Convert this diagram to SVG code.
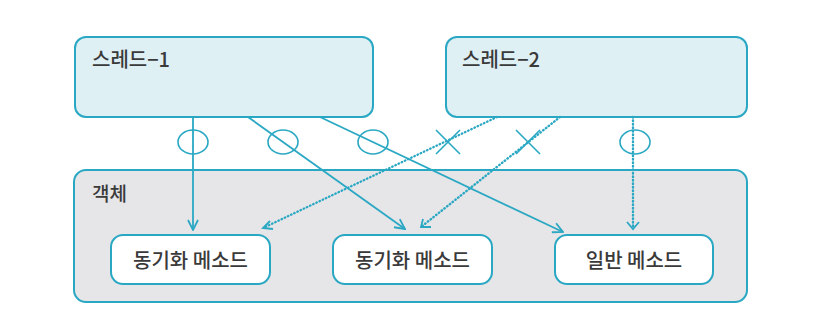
<svg xmlns="http://www.w3.org/2000/svg" width="838" height="333" viewBox="0 0 838 333">
<defs>
<style>
.t{font-family:"Noto Sans CJK KR","Noto Sans",sans-serif;font-size:20px;font-weight:500;fill:#3a3a3a}
.thr{fill:#dff0f5;stroke:#2aa8c3;stroke-width:2}
.obj{fill:#e6e5e8;stroke:#2aa8c3;stroke-width:2}
.m{fill:#ffffff;stroke:#2aa8c3;stroke-width:2}
.ln{fill:none;stroke:#2aa8c3;stroke-width:1.8}
.dt{fill:none;stroke:#2aa8c3;stroke-width:2.4;stroke-dasharray:0.5 3;stroke-linecap:round}
.mk{fill:none;stroke:#2aa8c3;stroke-width:1.6}
</style>
<marker id="a" viewBox="0 0 12 12" refX="11" refY="6" markerWidth="12" markerHeight="12" markerUnits="userSpaceOnUse" orient="auto">
<path d="M1,1 L11,6 L1,11" fill="none" stroke="#2aa8c3" stroke-width="1.8"/>
</marker>
</defs>
<rect width="838" height="333" fill="#ffffff"/>
<g id="object">
<rect class="obj" x="74" y="170" width="673" height="132" rx="12"/>
<text class="t" x="92" y="201" style="font-size:19px">객체</text>
</g>
<g id="thread1">
<rect class="thr" x="75" y="37" width="298" height="80" rx="11"/>
<text class="t" x="92" y="67">스레드−1</text>
</g>
<g id="thread2">
<rect class="thr" x="446" y="37" width="301" height="80" rx="11"/>
<text class="t" x="462" y="67">스레드−2</text>
</g>
<g id="sync1">
<rect class="m" x="111" y="235" width="159" height="49" rx="12"/>
<text class="t" x="190.5" y="268" text-anchor="middle">동기화 메소드</text>
</g>
<g id="sync2">
<rect class="m" x="333" y="235" width="159" height="49" rx="12"/>
<text class="t" x="412.5" y="268" text-anchor="middle">동기화 메소드</text>
</g>
<g id="normal">
<rect class="m" x="555" y="235" width="158" height="49" rx="12"/>
<text class="t" x="634" y="268" text-anchor="middle">일반 메소드</text>
</g>
<g id="connectors">
<line class="ln" x1="193" y1="117" x2="193" y2="230" marker-end="url(#a)"/>
<line class="ln" x1="248" y1="117" x2="405" y2="229" marker-end="url(#a)"/>
<line class="ln" x1="320" y1="117" x2="563" y2="232" marker-end="url(#a)"/>
<line class="dt" x1="497" y1="117" x2="263" y2="228"/>
<path class="ln" d="M270,221 L263,228 L273,229"/>
<line class="dt" x1="560" y1="117" x2="421" y2="227"/>
<path class="ln" d="M423,219 L421,227 L431,227"/>
<line class="dt" x1="633" y1="117" x2="633" y2="229"/>
<path class="ln" d="M627,222 L633,229 L639,222"/>
<ellipse class="mk" cx="193" cy="142" rx="15" ry="12"/>
<ellipse class="mk" cx="283" cy="142" rx="15" ry="12"/>
<ellipse class="mk" cx="373" cy="142" rx="15" ry="12"/>
<ellipse class="mk" cx="635" cy="142" rx="15" ry="12"/>
<path class="mk" d="M436,130 L460,154 M460,130 L436,154"/>
<path class="mk" d="M516,130 L540,154 M540,130 L516,154"/>
</g>
</svg>
